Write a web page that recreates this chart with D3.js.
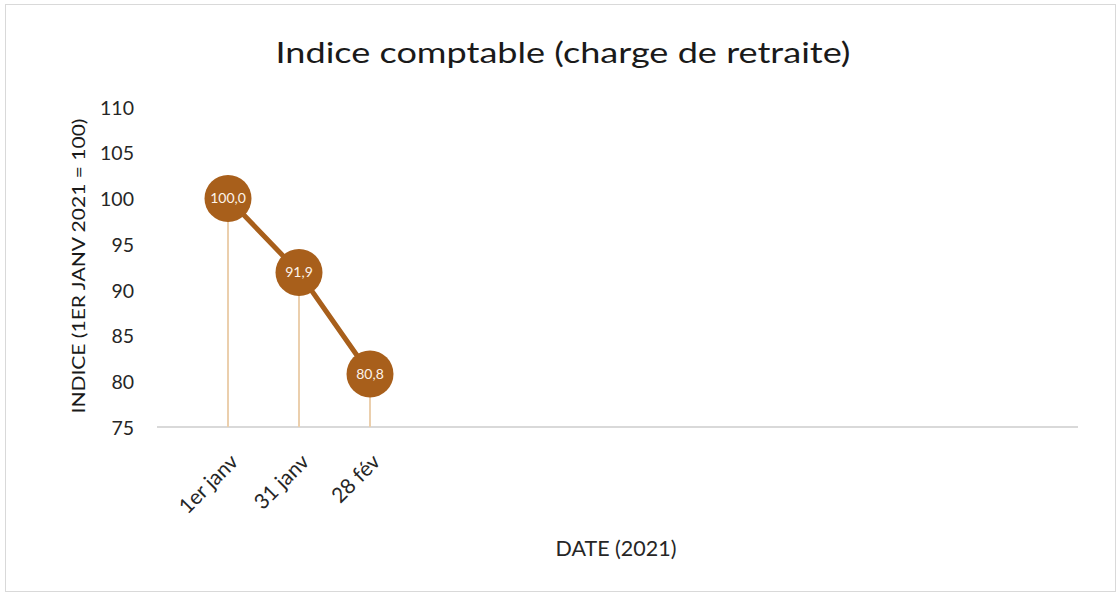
<!DOCTYPE html>
<html><head><meta charset="utf-8">
<script src="https://cdn.jsdelivr.net/npm/d3@7"></script>
<style>html,body{margin:0;padding:0;background:#fff;}svg{display:block;}</style>
</head><body>
<svg id="c" width="1116" height="593"></svg>
<script>
const categories = ["1er janv", "31 janv", "28 fév"];
const values = [100.0, 91.9, 80.8];
const labels = ["100,0", "91,9", "80,8"];
const yTicks = [75, 80, 85, 90, 95, 100, 105, 110];
const title = "Indice comptable (charge de retraite)";
const yTitle = "INDICE (1ER JANV 2021 = 100)";
const xTitle = "DATE (2021)";

const svg = d3.select("#c");
const font = "Lato, 'Open Sans', sans-serif";

svg.append("rect").attr("x", 5.5).attr("y", 4.5).attr("width", 1110).attr("height", 587)
  .attr("fill", "#fff").attr("stroke", "#d9d9d9").attr("stroke-width", 1);

const x = d3.scaleLinear().domain([-1, 12]).range([157, 1080]);
const y = d3.scaleLinear().domain([75, 110]).range([427, 107]);

// title
svg.append("text").attr("x", 563).attr("y", 63).attr("text-anchor", "middle")
  .attr("font-family", font).attr("font-size", 28).attr("fill", "#1a1a1a")
  .attr("textLength", 575).attr("lengthAdjust", "spacingAndGlyphs").text(title);

// y axis labels
const yAxis = d3.axisLeft(y).tickValues(yTicks).tickSize(0).tickPadding(0).tickFormat(d3.format("d"));
const gy = svg.append("g").attr("transform", "translate(134,1)").call(yAxis);
gy.select(".domain").remove();
gy.selectAll("text").attr("font-family", font).attr("font-size", 19.5).attr("fill", "#262626");

// x axis baseline
const xAxis = d3.axisBottom(x).tickValues(d3.range(categories.length)).tickSize(0).tickPadding(0)
  .tickFormat(i => categories[i]);
const gx = svg.append("g").attr("transform", `translate(0,${y(75)})`).call(xAxis);
gx.select(".domain").attr("d", `M${x(-1)},0H${x(12) - 2}`).attr("stroke", "#d9d9d9").attr("stroke-width", 2);
gx.selectAll("text")
  .attr("font-family", font).attr("font-size", 21).attr("fill", "#262626")
  .attr("text-anchor", "end").attr("dy", 0).attr("y", 0)
  .attr("transform", "translate(11,36) rotate(-45)");

// drop lines
svg.append("g").selectAll("line").data(values).join("line")
  .attr("x1", (d, i) => x(i)).attr("x2", (d, i) => x(i))
  .attr("y1", d => y(d)).attr("y2", y(75))
  .attr("stroke", "#ebcfad").attr("stroke-width", 2);

// line
const line = d3.line().x((d, i) => x(i)).y(d => y(d));
svg.append("path").datum(values).attr("d", line).attr("fill", "none")
  .attr("stroke", "#a85f1b").attr("stroke-width", 5);

// markers
svg.append("g").selectAll("circle").data(values).join("circle")
  .attr("cx", (d, i) => x(i)).attr("cy", d => y(d)).attr("r", 23.5)
  .attr("fill", "#a85f1b");

svg.append("g").selectAll("text").data(values).join("text")
  .attr("x", (d, i) => x(i)).attr("y", d => y(d) + 5).attr("text-anchor", "middle")
  .attr("font-family", font).attr("font-size", 14).attr("fill", "#fdf3ea")
  .text((d, i) => labels[i]);

// axis titles
svg.append("text").attr("transform", "translate(85,266) rotate(-90)").attr("text-anchor", "middle")
  .attr("font-family", font).attr("font-size", 18).attr("fill", "#1a1a1a")
  .attr("textLength", 295).attr("lengthAdjust", "spacingAndGlyphs").text(yTitle);

svg.append("text").attr("x", 616).attr("y", 556).attr("text-anchor", "middle")
  .attr("font-family", font).attr("font-size", 21.5).attr("fill", "#262626").text(xTitle);
</script>
</body></html>
